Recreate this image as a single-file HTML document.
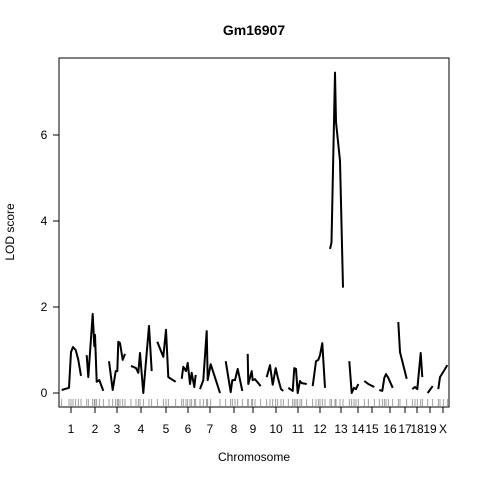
<!DOCTYPE html>
<html><head><meta charset="utf-8"><style>
body{margin:0;background:#fff}
svg text{font-family:"Liberation Sans",sans-serif;font-size:12px}
</style></head><body>
<svg id="c" width="480" height="480" xmlns="http://www.w3.org/2000/svg"></svg>
<script>
const chrNames=["1","2","3","4","5","6","7","8","9","10","11","12","13","14","15","16","17","18","19","X"];
const chrLabelPos=[12,36,58,82,107,129,151,175,194,217,239,261,282,299,313,331,346,358,371,384];
const chrPos=[
[2.7,10,12,14,16.7,19.3,22],
[27.7,29.3,33.7,35.3,36,37.7,40.3,44.3],
[50,53.7,56.7,58.3,59.3,61,63.7,66],
[72,77,79.3,81,84.3,90,92.7],
[98.3,104.3,107,109.3,116.7],
[122.7,124.3,127,128.7,131,132.7,135.3,136.7],
[141,144.3,147.7,148.7,151.7,161],
[166.7,171.7,173.3,176,178.7,183.3],
[188.7,189.3,192.7,193.7,196,201.7],
[207.7,211,213.7,216.7,218.7,222,224.3],
[229.3,233.7,235.3,237,238.7,241,242.7,247.7],
[253.7,257,259.3,261,263.3,266],
[271,272.5,276,277,281,284],
[290.3,292.7,295,297,299.3],
[305.3,309.3,315.3],
[320.3,323.3,325.3,327,329.3,333.7],
[339.3,341,347.7],
[353.3,356,358.3,361.7,363.3],
[368.7,373.7],
[379.3,381,384.3,388.3]];
const chrLod=[
[0.07,0.12,0.95,1.07,1.0,0.77,0.4],
[0.88,0.37,1.84,1.09,1.35,0.26,0.3,0.05],
[0.74,0.07,0.51,0.51,1.19,1.16,0.77,0.91],
[0.63,0.58,0.47,0.93,0.0,1.56,0.51],
[1.19,0.84,1.47,0.37,0.26],
[0.33,0.61,0.51,0.7,0.21,0.47,0.14,0.42],
[0.09,0.3,1.44,0.3,0.67,0.0],
[0.74,0.02,0.3,0.3,0.56,0.05],
[0.91,0.21,0.51,0.3,0.32,0.16],
[0.37,0.65,0.19,0.58,0.37,0.09,0.05],
[0.12,0.05,0.58,0.56,0.0,0.28,0.23,0.21],
[0.16,0.74,0.77,0.88,1.16,0.12],
[3.35,3.5,7.45,6.3,5.4,2.45],
[0.74,0.0,0.12,0.09,0.21],
[0.28,0.21,0.14],
[0.07,0.05,0.35,0.44,0.35,0.12],
[1.65,0.95,0.33],
[0.09,0.14,0.09,0.93,0.37],
[0.0,0.16],
[0.09,0.37,0.49,0.65]];
const yTicks=[0,2,4,6];

const L=59,R=449,T=58,B=407;
const xS=p=>L+p, yS=v=>393-v*43;
const svg=document.getElementById('c');
const NS="http://www.w3.org/2000/svg";
function mk(tag,attrs,parent){const e=document.createElementNS(NS,tag);for(const k in attrs)e.setAttribute(k,attrs[k]);(parent||svg).appendChild(e);return e;}
let e;
e=mk('rect',{x:L,y:T,width:R-L,height:B-T,fill:'none',stroke:'#000'});


e=mk('text',{x:254,y:35,'text-anchor':'middle','font-weight':'bold','style':'font-size:14px'});e.textContent='Gm16907';


e=mk('text',{x:254,y:461,'text-anchor':'middle'});e.textContent='Chromosome';


e=mk('text',{x:0,y:0,'text-anchor':'middle',transform:'translate(14,232) rotate(-90)'});e.textContent='LOD score';


yTicks.forEach(v=>{
  e=mk('line',{x1:L,x2:L-6,y1:yS(v),y2:yS(v),stroke:'#000'});
  
  
  e=mk('text',{x:44,y:yS(v)+4,'text-anchor':'middle'});e.textContent=v;
  
  
});
chrNames.forEach((n,i)=>{
  const x=xS(chrLabelPos[i]);
  e=mk('line',{x1:x,x2:x,y1:B,y2:B+6,stroke:'#000'});
  
  
  e=mk('text',{x:x,y:433,'text-anchor':'middle'});e.textContent=n;
  
  
});
chrPos.forEach((ps,i)=>{
  ps.forEach(p=>{
    e=mk('line',{x1:xS(p),x2:xS(p),y1:399,y2:406,stroke:'#888','stroke-width':0.8});
    
    
  });
  const d=ps.map((p,j)=>(j?'L':'M')+xS(p).toFixed(1)+','+yS(chrLod[i][j]).toFixed(1)).join(' ');
  e=mk('path',{d:d,fill:'none',stroke:'#000','stroke-width':2,'stroke-linejoin':'round'});
  
  
});
</script>
</body></html>
